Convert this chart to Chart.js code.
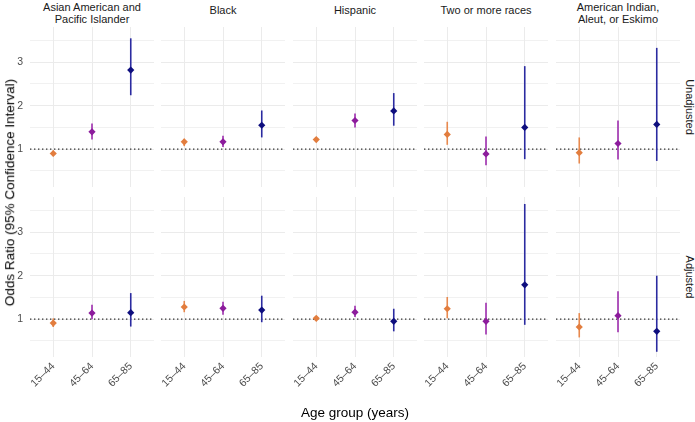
<!DOCTYPE html>
<html>
<head>
<meta charset="utf-8">
<script src="https://cdn.jsdelivr.net/npm/chart.js@4.4.1/dist/chart.umd.min.js"></script>
<style>
  html, body { margin: 0; padding: 0; background: #ffffff; }
  #wrap { position: relative; width: 695px; height: 422px; overflow: hidden; font-family: "Liberation Sans", Arial, Helvetica, sans-serif; }
  canvas { position: absolute; }
  .strip { position: absolute; text-align: center; color: #1a1a1a; font-size: 11px; line-height: 11.5px; }
  .rstrip { position: absolute; color: #1a1a1a; font-size: 11px; white-space: nowrap; transform-origin: center center; }
  .title { position: absolute; color: #000; font-size: 13.5px; white-space: nowrap; }
</style>
</head>
<body>
<div id="wrap"></div>
<script>
// ---- data ----
const ageGroups = ['15–44', '45–64', '65–85'];
const races = ['Asian American and\nPacific Islander', 'Black', 'Hispanic', 'Two or more races', 'American Indian,\nAleut, or Eskimo'];
const models = ['Unadjusted', 'Adjusted'];
const yTickLabels = [1, 2, 3];

// Unadjusted odds ratios [race][age]
const unadjEst = [[0.90, 1.40, 2.82], [1.17, 1.17, 1.55], [1.22, 1.66, 1.88], [1.34, 0.89, 1.50], [0.92, 1.13, 1.57]];
const unadjLo  = [[0.84, 1.22, 2.24], [1.07, 1.05, 1.27], [1.17, 1.50, 1.54], [1.10, 0.63, 0.77], [0.67, 0.76, 0.73]];
const unadjHi  = [[0.97, 1.59, 3.55], [1.24, 1.31, 1.89], [1.27, 1.82, 2.29], [1.63, 1.29, 2.91], [1.27, 1.66, 3.33]];
// Adjusted odds ratios [race][age]
const adjEst = [[0.91, 1.14, 1.15], [1.28, 1.25, 1.21], [1.02, 1.16, 0.95], [1.24, 0.95, 1.79], [0.82, 1.08, 0.72]];
const adjLo  = [[0.82, 1.00, 0.83], [1.16, 1.10, 0.93], [0.99, 1.05, 0.72], [1.02, 0.65, 0.87], [0.58, 0.70, 0.25]];
const adjHi  = [[1.02, 1.33, 1.60], [1.42, 1.40, 1.54], [1.06, 1.31, 1.24], [1.51, 1.38, 3.65], [1.14, 1.64, 2.00]];

const lineColors  = ['#E8894E', '#9E2DAE', '#2B2BA0'];
const pointColors = ['#E27D3E', '#8C1C9C', '#0E0E7E'];

// ---- layout ----
const panelLefts = [30, 161, 293, 424, 556];
const panelTops = [27, 197];
const PW = 124, PH = 160;
const YAXIS_W = 30, XAXIS_H = 62;
const FONT = '"Liberation Sans", Arial, Helvetica, sans-serif';

const wrap = document.getElementById('wrap');

const refLine = {
  id: 'refLine',
  beforeDatasetsDraw(chart) {
    const ctx = chart.ctx, a = chart.chartArea;
    const y = chart.scales.y.getPixelForValue(1);
    ctx.save();
    ctx.strokeStyle = '#333333';
    ctx.lineWidth = 1.4;
    ctx.setLineDash([1.4, 2.6]);
    ctx.beginPath();
    ctx.moveTo(a.left, y);
    ctx.lineTo(a.right, y);
    ctx.stroke();
    ctx.restore();
  }
};

function zeroPad(s) {
  s.paddingTop = 0; s.paddingBottom = 0; s.paddingLeft = 0; s.paddingRight = 0;
}

function makePanel(r, c) {
  const est = r === 0 ? unadjEst : adjEst;
  const lo = r === 0 ? unadjLo : adjLo;
  const hi = r === 0 ? unadjHi : adjHi;
  const hasY = c === 0, hasX = r === 1;
  const cw = PW + (hasY ? YAXIS_W : 0);
  const ch = PH + (hasX ? XAXIS_H : 0);
  const cv = document.createElement('canvas');
  cv.width = cw; cv.height = ch;
  cv.style.width = cw + 'px'; cv.style.height = ch + 'px';
  cv.style.left = (panelLefts[c] - (hasY ? YAXIS_W : 0)) + 'px';
  cv.style.top = panelTops[r] + 'px';
  wrap.appendChild(cv);

  const datasets = [];
  ageGroups.forEach((g, i) => {
    datasets.push({
      type: 'line',
      data: [{ x: i, y: lo[c][i] }, { x: i, y: hi[c][i] }],
      borderColor: lineColors[i],
      borderWidth: 1.6,
      pointRadius: 0,
      fill: false,
      order: 2
    });
  });
  datasets.push({
    type: 'scatter',
    data: ageGroups.map((g, i) => ({ x: i, y: est[c][i] })),
    pointStyle: 'rectRot',
    pointRadius: 3.6,
    pointBackgroundColor: pointColors,
    pointBorderColor: pointColors,
    pointBorderWidth: 0,
    order: 1
  });

  new Chart(cv, {
    type: 'scatter',
    data: { datasets },
    plugins: [refLine],
    options: {
      responsive: false,
      animation: false,
      layout: { padding: 0, autoPadding: false },
      plugins: { legend: { display: false }, tooltip: { enabled: false }, title: { display: false } },
      scales: {
        x: {
          type: 'linear',
          min: -0.6, max: 2.6,
          grid: { color: '#EBEBEB', lineWidth: 1, drawTicks: false },
          border: { display: false },
          afterFit(s) { s.height = hasX ? XAXIS_H : 0; zeroPad(s); },
          afterBuildTicks(s) { s.ticks = ageGroups.map((g, i) => ({ value: i })); },
          ticks: {
            display: hasX,
            autoSkip: false,
            maxRotation: 45, minRotation: 45,
            padding: 3,
            color: '#4D4D4D',
            font: { family: FONT, size: 10.5 },
            callback: (v) => ageGroups[v]
          }
        },
        y: {
          type: 'linear',
          min: 0.13, max: 3.81,
          grid: { color: '#EBEBEB', lineWidth: (ctx) => (ctx.tick && Number.isInteger(ctx.tick.value) ? 1 : 0.7), drawTicks: false },
          border: { display: false },
          afterFit(s) { s.width = hasY ? YAXIS_W : 0; zeroPad(s); },
          ticks: {
            display: hasY,
            stepSize: 0.5,
            includeBounds: false,
            padding: 7,
            color: '#4D4D4D',
            font: { family: FONT, size: 10.5 },
            callback: (v) => (yTickLabels.includes(v) ? String(v) : '')
          }
        }
      }
    }
  });
}

for (let r = 0; r < 2; r++) for (let c = 0; c < 5; c++) makePanel(r, c);

// strip labels (top)
races.forEach((name, c) => {
  const d = document.createElement('div');
  d.className = 'strip';
  const lines = name.split('\n');
  d.innerHTML = lines.join('<br>');
  d.style.left = (panelLefts[c] - 10) + 'px';
  d.style.width = (PW + 20) + 'px';
  d.style.top = (lines.length > 1 ? 2 : 5) + 'px';
  wrap.appendChild(d);
});
// strip labels (right)
models.forEach((m, r) => {
  const d = document.createElement('div');
  d.className = 'rstrip';
  d.textContent = m;
  wrap.appendChild(d);
  const w = d.offsetWidth, h = d.offsetHeight;
  d.style.left = (690 - w / 2) + 'px';
  d.style.top = (panelTops[r] + PH / 2 - h / 2) + 'px';
  d.style.transform = 'rotate(90deg)';
});
// axis titles
const yt = document.createElement('div');
yt.className = 'title';
yt.textContent = 'Odds Ratio (95% Confidence Interval)';
wrap.appendChild(yt);
yt.style.left = (9 - yt.offsetWidth / 2) + 'px';
yt.style.top = (192 - yt.offsetHeight / 2) + 'px';
yt.style.transform = 'rotate(-90deg)';

const xt = document.createElement('div');
xt.className = 'title';
xt.textContent = 'Age group (years)';
wrap.appendChild(xt);
xt.style.left = (355 - xt.offsetWidth / 2) + 'px';
xt.style.top = (412 - xt.offsetHeight / 2) + 'px';
</script>
</body>
</html>
